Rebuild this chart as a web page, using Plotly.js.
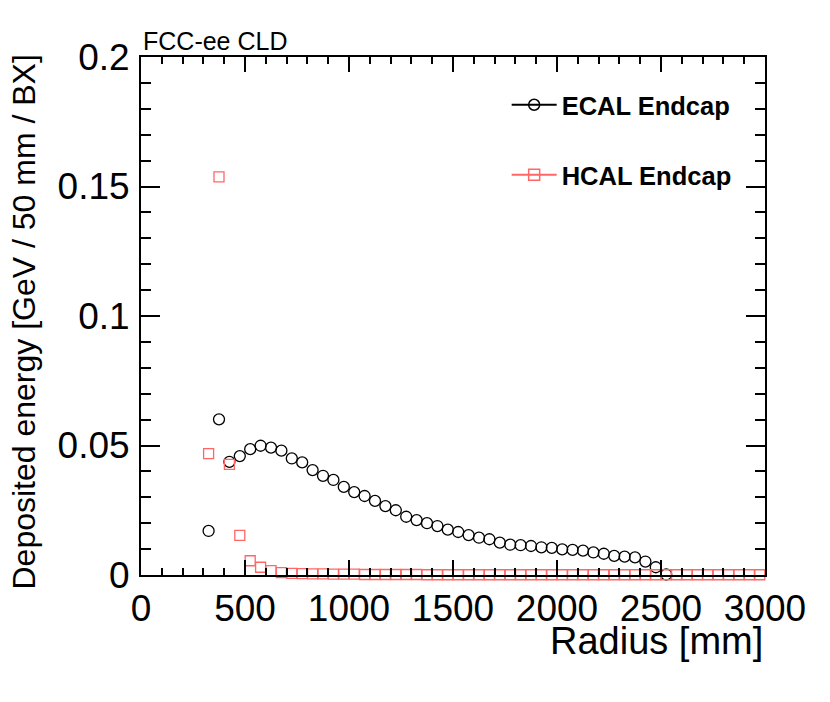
<!DOCTYPE html>
<html>
<head>
<meta charset="utf-8">
<script src="https://cdn.plot.ly/plotly-3.0.1.min.js"></script>
<style>html,body{margin:0;padding:0;background:#fff;}#chart{width:830px;height:702px;}</style>
</head>
<body>
<div id="chart"></div>
<script>
// Bin centres (mm)
var ecalRadius = [325,375,425,475,525,575,625,675,725,775,825,875,925,975,1025,1075,1125,1175,1225,1275,1325,1375,1425,1475,1525,1575,1625,1675,1725,1775,1825,1875,1925,1975,2025,2075,2125,2175,2225,2275,2325,2375,2425,2475,2525];
var ecalEnergy = [0.0170,0.0601,0.0437,0.0459,0.0486,0.0499,0.0492,0.0480,0.0450,0.0435,0.0405,0.0383,0.0367,0.0340,0.0320,0.0305,0.0286,0.0266,0.0250,0.0225,0.0212,0.0200,0.0189,0.0175,0.0166,0.0154,0.0144,0.0138,0.0125,0.0117,0.0115,0.0112,0.0107,0.0105,0.0099,0.0097,0.0094,0.0087,0.0082,0.0074,0.0071,0.0068,0.0052,0.0030,0.0002];

var hcalRadius = [325,375,425,475,525,575,625,675,725,775,825,875,925,975,1025,1075,1125,1175,1225,1275,1325,1375,1425,1475,1525,1575,1625,1675,1725,1775,1825,1875,1925,1975,2025,2075,2125,2175,2225,2275,2325,2375,2425,2475,2525,2575,2625,2675,2725,2775,2825,2875,2925,2975];
var hcalEnergy = [0.0469,0.1537,0.0427,0.0153,0.0055,0.0030,0.0017,0.0009,0.0006,0.0005,0.0004,0.0004,0.0003,0.0003,0.0003,0.0002,0.0002,0.0002,0.0002,0.0002,0.0002,0.0001,0.0001,0.0001,0.0001,0.0001,0.0001,0.0001,0.0001,0.0001,0.0001,0.0001,0.0001,0.0001,0.0001,0.0001,0.0001,0.0001,0.0001,0.0001,0.0001,0.0001,0.0001,0.0001,0.0001,0.0001,0.0001,0.0001,0.0001,0.0001,0.0001,0.0001,0.0001,0.0001];

var seriesNames = ["ECAL Endcap", "HCAL Endcap"];
var xTitle = "Radius [mm]";
var yTitle = "Deposited energy [GeV / 50 mm / BX]";
var label = "FCC-ee CLD";

var FONT = "Liberation Sans, Arial, Helvetica, sans-serif";
var ecalColor = "#000000";
var hcalColor = "#ff6666";

var traces = [
  {x: ecalRadius, y: ecalEnergy, type: "scatter", mode: "markers", showlegend: false, cliponaxis: false,
   marker: {symbol: "circle-open", size: 11, color: ecalColor, line: {width: 1.3, color: ecalColor}}},
  {x: hcalRadius, y: hcalEnergy, type: "scatter", mode: "markers", showlegend: false, cliponaxis: false,
   marker: {symbol: "square-open", size: 10, color: hcalColor, line: {width: 1.3, color: hcalColor}}},
  {x: [null], y: [null], type: "scatter", mode: "lines+markers", name: seriesNames[0], legend: "legend",
   line: {color: ecalColor, width: 2}, marker: {symbol: "circle-open", size: 11, color: ecalColor, line: {width: 1.5}}},
  {x: [null], y: [null], type: "scatter", mode: "lines+markers", name: seriesNames[1], legend: "legend2",
   line: {color: hcalColor, width: 2}, marker: {symbol: "square-open", size: 11, color: hcalColor, line: {width: 1.5}}}
];

var axisCommon = {
  showline: true, linecolor: "#000", linewidth: 2, mirror: "allticks",
  ticks: "inside", tickcolor: "#000", tickwidth: 2,
  showgrid: false, zeroline: false, fixedrange: true,
  tickfont: {family: FONT, size: 37, color: "#000"}
};

var legendCommon = {xanchor: "left", yanchor: "middle", bgcolor: "rgba(0,0,0,0)", itemwidth: 45,
  font: {family: FONT, size: 25.5, weight: "bold", color: "#000"}};

var layout = {
  width: 830, height: 702,
  margin: {l: 141, r: 65, t: 57, b: 127, pad: 0},
  paper_bgcolor: "#fff", plot_bgcolor: "#fff",
  font: {family: FONT, color: "#000"},
  xaxis: Object.assign({}, axisCommon, {
    range: [0, 3000], tickmode: "linear", tick0: 0, dtick: 500, ticklen: 15,
    minor: {ticks: "inside", dtick: 100, tick0: 0, ticklen: 7, tickwidth: 2, tickcolor: "#000", showgrid: false}
  }),
  yaxis: Object.assign({}, axisCommon, {
    range: [0, 0.2], tickmode: "linear", tick0: 0, dtick: 0.05, ticklen: 19, ticklabelstandoff: 2,
    minor: {ticks: "inside", dtick: 0.01, tick0: 0, ticklen: 10, tickwidth: 2, tickcolor: "#000", showgrid: false}
  }),
  legend: Object.assign({}, legendCommon, {x: 0.586, y: 0.907}),
  legend2: Object.assign({}, legendCommon, {x: 0.586, y: 0.772}),
  annotations: [
    {text: xTitle, xref: "paper", yref: "paper", x: 1.0, y: -0.127, xanchor: "right", yanchor: "middle",
     showarrow: false, font: {family: FONT, size: 38, color: "#000"}},
    {text: yTitle, xref: "paper", yref: "paper", x: -0.187, y: 0.488, xanchor: "center", yanchor: "middle",
     textangle: -90, showarrow: false, font: {family: FONT, size: 32, color: "#000"}},
    {text: label, xref: "paper", yref: "paper", x: 0.0, y: 1.0, xanchor: "left", yanchor: "bottom",
     showarrow: false, font: {family: FONT, size: 25, color: "#000"}}
  ]
};

Plotly.newPlot("chart", traces, layout, {staticPlot: true, displayModeBar: false});
</script>
</body>
</html>
